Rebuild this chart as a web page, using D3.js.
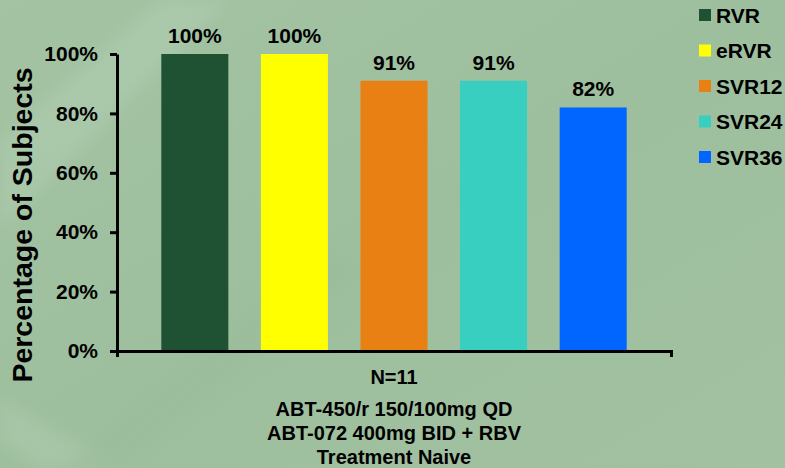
<!DOCTYPE html>
<html>
<head>
<meta charset="utf-8">
<script src="https://cdn.jsdelivr.net/npm/d3@7"></script>
<style>
  html, body { margin: 0; padding: 0; background: #a0c0a0; }
  svg { display: block; }
  text { font-family: "Liberation Sans", Arial, sans-serif; font-weight: bold; fill: #000; }
</style>
</head>
<body>
<svg id="chart" width="785" height="468"></svg>
<script>
// Response rates by timepoint
const categories = ["RVR", "eRVR", "SVR12", "SVR24", "SVR36"];
const values = [100, 100, 91, 91, 82];
const colors = ["#1e5233", "#ffff00", "#e88014", "#38cfc0", "#0066ff"];
const yTicks = [0, 20, 40, 60, 80, 100];
const groupLabel = ["N=11"];
const footLines = ["ABT-450/r 150/100mg QD", "ABT-072 400mg BID + RBV", "Treatment Naive"];
const yTitle = "Percentage of Subjects";

const svg = d3.select("#chart");
const W = 785, H = 468;
const plotLeft = 117, plotRight = 671, plotTop = 54, plotBottom = 351;

// Background: soft green with faint diagonal sheen
const defs = svg.append("defs");
const bg = defs.append("linearGradient").attr("id", "bg")
  .attr("x1", "0").attr("y1", "0").attr("x2", "1").attr("y2", "1");
bg.append("stop").attr("offset", "0").attr("stop-color", "#a3c3a3");
bg.append("stop").attr("offset", "0.5").attr("stop-color", "#9ebf9e");
bg.append("stop").attr("offset", "1").attr("stop-color", "#a1c1a1");
defs.append("filter").attr("id", "soft").append("feGaussianBlur").attr("stdDeviation", 8);

svg.append("rect").attr("width", W).attr("height", H).attr("fill", "url(#bg)");
const sheen = svg.append("g").attr("filter", "url(#soft)").attr("opacity", 0.18);
sheen.append("path").attr("d", "M0,140 L160,0 L230,0 L0,230 Z").attr("fill", "#cfe3cf");
sheen.append("path").attr("d", "M0,400 L120,468 L40,468 L0,440 Z").attr("fill", "#cfe3cf");
sheen.append("path").attr("d", "M60,468 L330,250 L360,270 L120,468 Z").attr("fill", "#8db08d").attr("opacity", 0.6);

// Scales
const y = d3.scaleLinear().domain([0, 100]).range([plotBottom, plotTop]);
const x = d3.scaleBand().domain(categories).range([plotLeft, plotRight])
  .paddingInner(0.327).paddingOuter(0.445);
const xg = d3.scaleBand().domain(groupLabel).range([plotLeft, plotRight]);

// Bars
svg.append("g").selectAll("rect").data(categories).join("rect")
  .attr("x", d => x(d))
  .attr("width", x.bandwidth())
  .attr("y", (d, i) => y(values[i]))
  .attr("height", (d, i) => y(0) - y(values[i]))
  .attr("fill", (d, i) => colors[i]);

// Value labels
svg.append("g").selectAll("text").data(categories).join("text")
  .attr("x", d => x(d) + x.bandwidth() / 2)
  .attr("y", (d, i) => y(values[i]) - 11)
  .attr("text-anchor", "middle")
  .style("font-size", "21px")
  .text((d, i) => values[i] + "%");

// Y axis
const yAxis = svg.append("g").attr("transform", `translate(${plotLeft},0)`)
  .call(d3.axisLeft(y).tickValues(yTicks).tickFormat(d => d + "%")
    .tickSize(7).tickSizeOuter(0).tickPadding(12));
yAxis.select(".domain").attr("stroke", "#000").attr("stroke-width", 3);
yAxis.selectAll(".tick line").attr("stroke", "#000").attr("stroke-width", 3);
yAxis.selectAll(".tick text").style("font-size", "21px")
  .style("font-family", "'Liberation Sans', Arial, sans-serif").style("font-weight", "bold").attr("fill", "#000");

// X axis (single group, outer ticks at both ends)
const xAxis = svg.append("g").attr("transform", `translate(0,${plotBottom})`)
  .call(d3.axisBottom(xg).tickSize(0).tickSizeOuter(6).tickPadding(19));
xAxis.select(".domain").attr("stroke", "#000").attr("stroke-width", 3);
xAxis.selectAll(".tick text").style("font-size", "20px")
  .style("font-family", "'Liberation Sans', Arial, sans-serif").style("font-weight", "bold").attr("fill", "#000");

// Treatment description
svg.append("g").selectAll("text").data(footLines).join("text")
  .attr("x", xg(groupLabel[0]) + xg.bandwidth() / 2)
  .attr("y", (d, i) => 416 + i * 24)
  .attr("text-anchor", "middle")
  .style("font-size", "20px")
  .text(d => d);

// Y title
svg.append("text")
  .attr("transform", "translate(32,225) rotate(-90)")
  .attr("text-anchor", "middle")
  .style("font-size", "28.5px")
  .text(yTitle);

// Legend
const leg = svg.append("g").selectAll("g").data(categories).join("g")
  .attr("transform", (d, i) => `translate(699,${15 + i * 35.5})`);
leg.append("rect").attr("x", 0).attr("y", -6).attr("width", 12).attr("height", 12)
  .attr("fill", (d, i) => colors[i]);
leg.append("text").attr("x", 17).attr("dy", "0.36em")
  .style("font-size", "21px").text(d => d);
</script>
</body>
</html>
